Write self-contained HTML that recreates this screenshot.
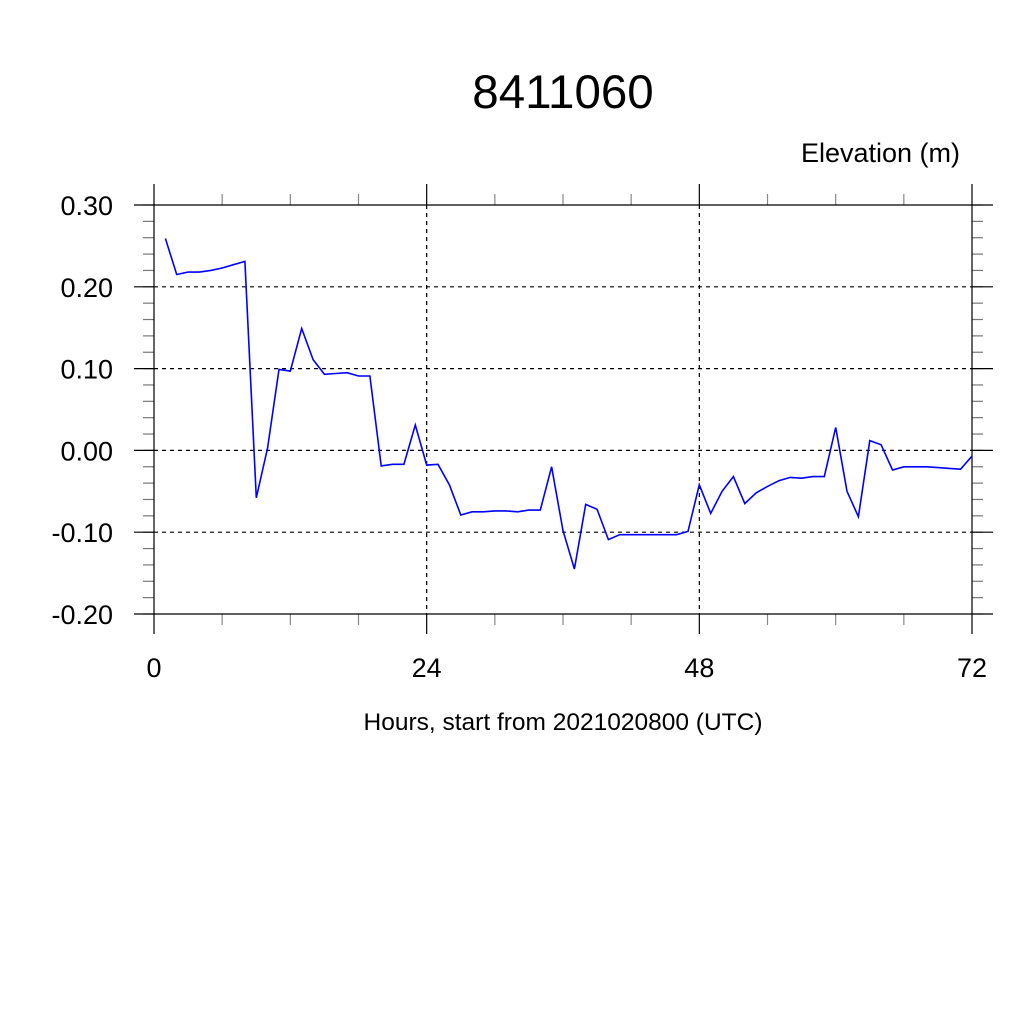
<!DOCTYPE html>
<html><head><meta charset="utf-8"><style>
html,body{margin:0;padding:0;background:#fff;}
svg{display:block;font-family:"Liberation Sans",sans-serif;}
</style></head><body>
<svg id="chart" width="1024" height="1024" viewBox="0 0 1024 1024">
<rect width="1024" height="1024" fill="#fff"/>
<text x="563" y="108" font-size="47.5" text-anchor="middle">8411060</text>
<text x="960" y="162" font-size="27" text-anchor="end">Elevation (m)</text>
<text x="563" y="730" font-size="24.5" text-anchor="middle">Hours, start from 2021020800 (UTC)</text>
<g id="axes"></g>
<g id="series"></g>
</svg>
<script>
const hours = [];
for (let i = 1; i <= 72; i++) hours.push(i);
const elevation = [0.259,0.215,0.218,0.218,0.220,0.223,0.227,0.231,-0.058,0.003,
0.099,0.097,0.149,0.111,0.093,0.094,0.095,0.091,0.091,-0.019,
-0.017,-0.017,0.031,-0.018,-0.017,-0.042,-0.079,-0.075,-0.075,-0.074,
-0.074,-0.075,-0.073,-0.073,-0.020,-0.098,-0.145,-0.066,-0.072,-0.109,
-0.103,-0.103,-0.103,-0.103,-0.103,-0.103,-0.099,-0.042,-0.077,-0.050,
-0.032,-0.065,-0.052,-0.044,-0.037,-0.033,-0.034,-0.032,-0.032,0.028,
-0.050,-0.081,0.012,0.007,-0.024,-0.020,-0.020,-0.020,-0.021,-0.022,
-0.023,-0.007];
const yTicks = [0.30,0.20,0.10,0.00,-0.10,-0.20];
const yTickLabels = ["0.30","0.20","0.10","0.00","-0.10","-0.20"];
const xTicks = [0,24,48,72];
const xTickLabels = ["0","24","48","72"];

const X0=154, X1=972, Y0=205, Y1=614;
const xs = h => X0 + (h/72)*(X1-X0);
const ys = v => Y0 + (0.30 - v)/0.50*(Y1-Y0);
const NS="http://www.w3.org/2000/svg";
const axes=document.getElementById('axes');
function line(x1,y1,x2,y2,stroke,dash,w){
  const l=document.createElementNS(NS,'line');
  l.setAttribute('x1',x1);l.setAttribute('y1',y1);l.setAttribute('x2',x2);l.setAttribute('y2',y2);
  l.setAttribute('stroke',stroke);l.setAttribute('stroke-width',w||1.2);
  if(dash) l.setAttribute('stroke-dasharray',dash);
  axes.appendChild(l);return l;
}
for(let v=-0.20; v<=0.301; v+=0.02){
  let l=line(143,ys(v),X0,ys(v),'#777');
  
  
  l=line(X1,ys(v),983,ys(v),'#777');
  
  
}
for(let h=6; h<72; h+=6){
  if(h%24===0) continue;
  let l=line(xs(h),194,xs(h),Y0,'#888');
  
  
  l=line(xs(h),Y1,xs(h),625,'#888');
  
  
}
yTicks.forEach((v,i)=>{
  const y=ys(v);
  const edge=(i===0||i===yTicks.length-1);
  let l=line(134,y,X0,y,'#000');
  
  
  l=line(X1,y,993,y,'#000');
  
  
  l=line(X0,y,X1,y,'#000',edge?null:'4,4');
  
  
  const t=document.createElementNS(NS,'text');
  t.setAttribute('x',113);t.setAttribute('y',y+10);t.setAttribute('font-size',27);t.setAttribute('text-anchor','end');
  t.textContent=yTickLabels[i];
  
  
  axes.appendChild(t);
});
xTicks.forEach((h,i)=>{
  const x=xs(h);
  const edge=(i===0||i===xTicks.length-1);
  let l;
  if(edge){ l=line(x,184,x,634,'#000'); }
  else {
    l=line(x,Y0,x,Y1,'#000','4,4');
    let a=line(x,184,x,Y0,'#000');
    
    
    a=line(x,Y1,x,634,'#000');
    
    
  }
  
  
  const t=document.createElementNS(NS,'text');
  t.setAttribute('x',x);t.setAttribute('y',677);t.setAttribute('font-size',27);t.setAttribute('text-anchor','middle');
  t.textContent=xTickLabels[i];
  
  
  axes.appendChild(t);
});
const p=document.createElementNS(NS,'polyline');
p.setAttribute('points',hours.map((h,i)=>xs(h).toFixed(1)+','+ys(elevation[i]).toFixed(1)).join(' '));
p.setAttribute('fill','none');p.setAttribute('stroke','#0000ff');p.setAttribute('stroke-width','1.6');


document.getElementById('series').appendChild(p);
</script>
</body></html>
